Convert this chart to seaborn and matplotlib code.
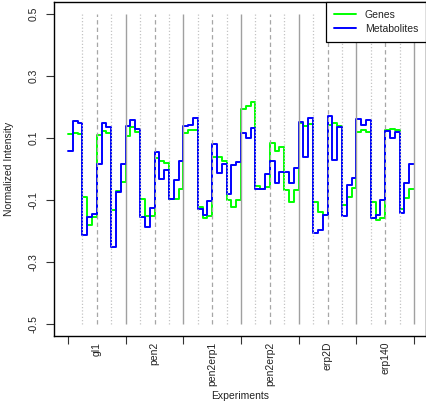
import numpy as np
import pandas as pd
import matplotlib
matplotlib.use("Agg")
import matplotlib.pyplot as plt
import seaborn as sns
from matplotlib.lines import Line2D

# Experiments (12 measurements each, grouped in 4 blocks of 3)
experiments = ["gl1", "pen2", "pen2erp1", "pen2erp2", "erp2D", "erp140"]

genes = [
    0.112, 0.117, 0.112, -0.089, -0.181, -0.155, 0.111, 0.124, 0.116, -0.131, -0.072, -0.043,
    0.105, 0.134, 0.118, -0.098, -0.152, -0.152, 0.037, 0.026, 0.019, -0.097, -0.097, -0.066,
    0.116, 0.125, 0.125, -0.121, -0.157, -0.150, 0.040, 0.039, 0.027, -0.100, -0.121, -0.100,
    0.195, 0.202, 0.217, -0.055, -0.066, -0.059, 0.083, 0.059, 0.071, -0.069, -0.106, -0.068,
    0.148, 0.140, 0.145, -0.106, -0.138, -0.148, 0.141, 0.147, 0.140, -0.116, -0.089, -0.060,
    0.118, 0.126, 0.119, -0.107, -0.163, -0.159, 0.126, 0.128, 0.125, -0.129, -0.095, -0.066,
]

metabolites = [
    0.058, 0.156, 0.147, -0.212, -0.155, -0.146, 0.015, 0.150, 0.135, -0.252, -0.075, 0.017,
    0.140, 0.158, 0.128, -0.156, -0.186, -0.127, 0.054, -0.031, -0.003, -0.097, -0.035, 0.027,
    0.140, 0.143, 0.163, -0.130, -0.148, -0.102, 0.080, -0.014, 0.017, -0.080, 0.013, 0.024,
    0.115, 0.099, 0.133, -0.065, -0.066, -0.016, 0.027, -0.044, -0.009, -0.009, -0.046, 0.004,
    0.152, 0.040, 0.165, -0.208, -0.197, -0.148, 0.171, 0.029, 0.134, -0.152, -0.051, -0.030,
    0.161, 0.143, 0.157, -0.158, -0.149, -0.100, 0.124, 0.100, 0.118, -0.143, -0.044, 0.016,
]

series_names = ["Genes", "Metabolites"]
series_colors = {"Genes": "#00ff00", "Metabolites": "#0000ff"}
y_ticks = [-0.5, -0.3, -0.1, 0.1, 0.3, 0.5]
y_tick_labels = ["-0.5", "-0.3", "-0.1", "0.1", "0.3", "0.5"]

per_exp = 12
n = len(genes)

# long-form table; the final value is repeated so the last step gets its width
rows = []
for name, vals in zip(series_names, [genes, metabolites]):
    ext = list(vals) + [vals[-1]]
    for i, v in enumerate(ext):
        rows.append({"pos": i, "value": v, "series": name})
df = pd.DataFrame(rows)

sns.set_style("ticks")
plt.rcParams["font.family"] = ["Liberation Sans", "DejaVu Sans"]
plt.rcParams["font.size"] = 7.5

W, H = 426, 403
fig = plt.figure(figsize=(W / 100, H / 100), dpi=100)
left_px, right_px, top_px, bottom_px = 53.5, 426.0, 2.0, 336.0
ax = fig.add_axes([left_px / W, 1 - bottom_px / H,
                   (right_px - left_px) / W, (bottom_px - top_px) / H])

sns.lineplot(data=df, x="pos", y="value", hue="series", hue_order=series_names,
             palette=series_colors, drawstyle="steps-post", estimator=None,
             linewidth=1.4, legend=False, ax=ax, zorder=2)

# separators: solid between experiments, dashed at halves, dotted at quarters
for k in range(3, n + 1, 3):
    if k % per_exp == 0:
        ax.vlines(k, -0.5, 0.5, colors="#a0a0a0", linestyles="solid", linewidth=1.0, zorder=3)
    elif k % (per_exp // 2) == 0:
        ax.vlines(k, -0.5, 0.5, colors="#a6a6a6", linestyles=(0, (3.5, 2.5)), linewidth=0.9, zorder=3)
    else:
        ax.vlines(k, -0.5, 0.5, colors="#c4c4c4", linestyles=(0, (1, 1.6)), linewidth=0.9, zorder=3)

ppu = (414 - 68) / n
ax.set_xlim(-(68 - left_px) / ppu, n + (right_px - 414) / ppu)
ax.set_ylim(-0.5 - 12 / 310, 0.5 + 12 / 310)

ax.set_yticks(y_ticks)
ax.set_yticklabels(y_tick_labels, rotation=90, va="center")
ax.tick_params(axis="y", length=6, width=0.8, pad=5, colors="#333333", labelcolor="#222222")

ax.set_xticks(np.arange(0, n + 1, per_exp))
ax.set_xticklabels([])
ax.set_xticks(np.arange(per_exp / 2, n, per_exp), minor=True)
ax.set_xticklabels(experiments, minor=True, rotation=90, va="top")
ax.tick_params(axis="x", which="major", length=6, width=0.8, colors="#333333")
ax.tick_params(axis="x", which="minor", length=0, pad=4, labelcolor="#222222")

for s in ax.spines.values():
    s.set_visible(True)
    s.set_color("black")
    s.set_linewidth(1.0)

ax.set_xlabel("")
ax.set_ylabel("")
fig.text(240 / W, 1 - 396 / H, "Experiments", ha="center", va="center", color="#222222")
fig.text(9 / W, 1 - 169 / H, "Normalized Intensity", ha="center", va="center",
         rotation=90, color="#222222")

handles = [Line2D([0], [0], color=series_colors[s], linewidth=1.4) for s in series_names]
leg = ax.legend(handles, series_names, loc="upper right", bbox_to_anchor=(1.0, 1.0),
                borderaxespad=0, frameon=True, fancybox=False, framealpha=1,
                edgecolor="black", handlelength=2.1, handletextpad=0.85,
                borderpad=0.75, labelspacing=0.4)
leg.get_frame().set_linewidth(0.9)
for t in leg.get_texts():
    t.set_color("#222222")

fig.savefig("out.png", dpi=100)
